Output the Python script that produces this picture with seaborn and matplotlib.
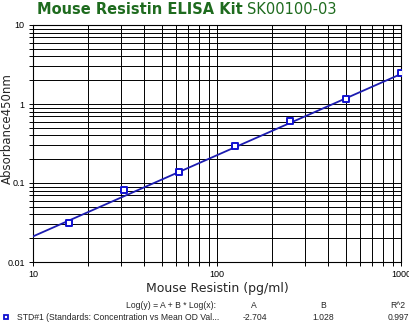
import numpy as np
import pandas as pd
import seaborn as sns
import matplotlib
matplotlib.use("Agg")
import matplotlib.pyplot as plt
from matplotlib.ticker import LogLocator, FixedLocator, FixedFormatter, NullFormatter

# Data
conc = [15.625, 31.25, 62.5, 125, 250, 500, 1000]
od = [0.031, 0.082, 0.138, 0.294, 0.61, 1.16, 2.47]
coef_A = -2.704
coef_B = 1.028
r2 = 0.997
x_line = [10, 1000]
x_ticks = [10, 100, 1000]
x_tick_labels = ["10", "100", "1000"]
y_ticks = [0.01, 0.1, 1, 10]
y_tick_labels = ["0.01", "0.1", "1", "10"]

df = pd.DataFrame({"conc": conc, "od": od})
fit = pd.DataFrame({"x": x_line,
                    "y": [10 ** (coef_A + coef_B * np.log10(v)) for v in x_line]})

sns.set_style("white")
plt.rcParams['font.family'] = ['DejaVu Sans']

fig = plt.figure(figsize=(4.10, 3.26), dpi=100)
ax = fig.add_axes([33 / 410, 1 - 262 / 326, (401 - 33) / 410, (262 - 25) / 326])
ax.set_xscale("log")
ax.set_yscale("log")
ax.set_xlim(10, 1000)
ax.set_ylim(0.01, 10)

# grid
ax.xaxis.set_major_locator(FixedLocator(x_ticks))
ax.xaxis.set_major_formatter(FixedFormatter(x_tick_labels))
ax.xaxis.set_minor_locator(LogLocator(base=10, subs=np.arange(2, 10), numticks=20))
ax.xaxis.set_minor_formatter(NullFormatter())
ax.yaxis.set_major_locator(FixedLocator(y_ticks))
ax.yaxis.set_major_formatter(FixedFormatter(y_tick_labels))
ax.yaxis.set_minor_locator(LogLocator(base=10, subs=np.arange(2, 10), numticks=20))
ax.yaxis.set_minor_formatter(NullFormatter())
ax.grid(True, which="both", color="black", linewidth=0.7)
ax.set_axisbelow(True)

sns.lineplot(data=fit, x="x", y="y", ax=ax, color="#1c1cb0", linewidth=1.3, zorder=3)
sns.scatterplot(data=df, x="conc", y="od", ax=ax, marker="s", s=14,
                facecolor="white", edgecolor="#1010d0", linewidth=1.4, zorder=4)

for s in ax.spines.values():
    s.set_color("black")
    s.set_linewidth(0.8)
ax.tick_params(axis="both", which="both", direction="out", colors="black",
               labelsize=6.5, length=3, width=0.7, bottom=True, left=True, pad=3)
for lab in ax.get_xticklabels() + ax.get_yticklabels():
    lab.set_family("Liberation Sans")

ax.set_xlabel("Mouse Resistin (pg/ml)", fontsize=9, labelpad=2)
ax.set_ylabel("")
fig.text(7 / 410, 1 - 129 / 326, "Absorbance450nm", fontsize=8.5, rotation=90,
         ha="center", va="center")

# title
green = "#1e6b1e"
t1 = fig.text(37 / 410, 1 - 9 / 326, "Mouse Resistin ELISA Kit", fontsize=10.5,
              fontweight="bold", color=green, va="center", ha="left")
fig.canvas.draw()
bb = t1.get_window_extent()
fig.text((bb.x1 + 4) / 410, 1 - 9 / 326, "SK00100-03", fontsize=10.5,
         color=green, va="center", ha="left")

# bottom legend table
fs = 6.2
lf = "Liberation Sans"
yr1 = 1 - 305 / 326
yr2 = 1 - 317 / 326
fig.text(216 / 410, yr1, "Log(y) = A + B * Log(x):", fontsize=fs, family=lf, ha="right", va="center")
fig.text(254 / 410, yr1, "A", fontsize=fs, family=lf, ha="center", va="center")
fig.text(323 / 410, yr1, "B", fontsize=fs, family=lf, ha="center", va="center")
fig.text(398 / 410, yr1, "R^2", fontsize=fs, family=lf, ha="center", va="center")
fig.text(17 / 410, yr2, "STD#1 (Standards: Concentration vs Mean OD Val...", fontsize=fs,
         family=lf, ha="left", va="center")
fig.text(255 / 410, yr2, f"{coef_A:.3f}", fontsize=fs, family=lf, ha="center", va="center")
fig.text(323 / 410, yr2, f"{coef_B:.3f}", fontsize=fs, family=lf, ha="center", va="center")
fig.text(398 / 410, yr2, f"{r2:.3f}", fontsize=fs, family=lf, ha="center", va="center")
fig.lines.append(matplotlib.lines.Line2D([6 / 410], [yr2], transform=fig.transFigure,
                                         marker="s", markersize=3.5, markerfacecolor="white",
                                         markeredgecolor="#1010d0", markeredgewidth=1.3,
                                         linestyle="none"))

fig.savefig("out.png", dpi=100)
